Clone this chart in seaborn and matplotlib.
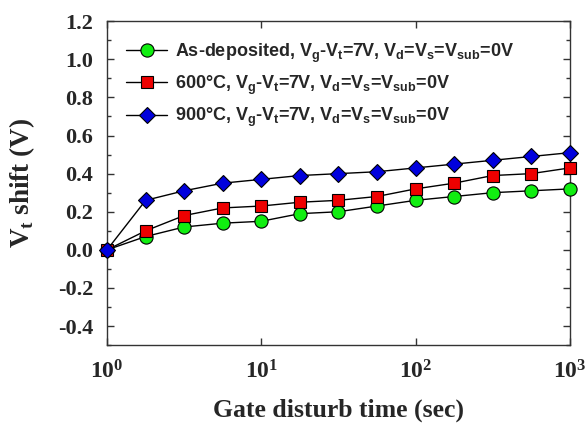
import matplotlib
matplotlib.use("Agg")
import matplotlib.pyplot as plt
import seaborn as sns
import pandas as pd
from matplotlib.ticker import MultipleLocator

sns.set_style("ticks")
plt.rcParams['font.family'] = ['Liberation Serif', 'DejaVu Serif']
plt.rcParams['mathtext.fontset'] = 'custom'
plt.rcParams['mathtext.rm'] = 'Liberation Serif:bold'
plt.rcParams['mathtext.sf'] = 'Liberation Sans:bold'
plt.rcParams['mathtext.bf'] = 'Liberation Serif:bold'

time_s = [1, 1.78, 3.16, 5.62, 10, 17.8, 31.6, 56.2, 100, 178, 316, 562, 1000]
as_deposited = [0.0, 0.07, 0.12, 0.14, 0.15, 0.19, 0.20, 0.23, 0.26, 0.28, 0.30, 0.31, 0.32]
anneal_600 = [0.0, 0.10, 0.18, 0.22, 0.23, 0.25, 0.26, 0.28, 0.32, 0.35, 0.39, 0.40, 0.43]
anneal_900 = [0.0, 0.26, 0.31, 0.35, 0.37, 0.39, 0.40, 0.41, 0.43, 0.45, 0.47, 0.49, 0.51]

labels = [
    r"As-deposited, V$_{\mathsf{g}}$-V$_{\mathsf{t}}$=7V, V$_{\mathsf{d}}$=V$_{\mathsf{s}}$=V$_{\mathsf{sub}}$=0V",
    r"600°C, V$_{\mathsf{g}}$-V$_{\mathsf{t}}$=7V, V$_{\mathsf{d}}$=V$_{\mathsf{s}}$=V$_{\mathsf{sub}}$=0V",
    r"900°C, V$_{\mathsf{g}}$-V$_{\mathsf{t}}$=7V, V$_{\mathsf{d}}$=V$_{\mathsf{s}}$=V$_{\mathsf{sub}}$=0V",
]
series = [as_deposited, anneal_600, anneal_900]
markers = ['o', 's', 'D']
faces = ['#11ee11', '#ee0000', '#0000dd']
msizes = [9.5, 8.5, 8.5]

xticks = [1, 10, 100, 1000]
xticklabels = [r"$\mathrm{10^{0}}$", r"$\mathrm{10^{1}}$", r"$\mathrm{10^{2}}$", r"$\mathrm{10^{3}}$"]
yticks = [-0.4, -0.2, 0.0, 0.2, 0.4, 0.6, 0.8, 1.0, 1.2]

fig = plt.figure(figsize=(5.88, 4.24), dpi=100)
ax = fig.add_axes([0.182, 0.186, 0.787, 0.764])
ax.set_xscale('log')

for lab, vals, mk, fc, ms in zip(labels, series, markers, faces, msizes):
    df = pd.DataFrame({'t': time_s, 'v': vals})
    sns.lineplot(data=df, x='t', y='v', ax=ax, color='black', linewidth=1.0,
                 marker=mk, markerfacecolor=fc, markeredgecolor='black',
                 markeredgewidth=0.8, markersize=ms, label=lab, clip_on=False, zorder=3)

ax.set_xlim(1, 1000)
ax.set_ylim(-0.5, 1.2)
ax.set_xticks(xticks, xticklabels)
ax.minorticks_off()
ax.set_yticks(yticks)
ax.set_yticklabels([f"{v:.1f}" for v in yticks])
ax.yaxis.set_minor_locator(MultipleLocator(0.1))
ax.tick_params(axis='both', which='both', direction='in', top=True, right=True, color='#333333')
ax.tick_params(axis='both', which='major', length=5, width=1)
ax.tick_params(axis='y', which='minor', length=3, width=1)
ax.tick_params(axis='y', labelsize=16, pad=10)
ax.tick_params(axis='x', labelsize=17, pad=11)
for lbl in ax.get_yticklabels():
    lbl.set_fontweight('bold')
for sp in ax.spines.values():
    sp.set_color('#333333')
    sp.set_linewidth(1.0)

ax.set_xlabel("Gate disturb time (sec)", fontsize=18.5, fontweight='bold', labelpad=11)
ax.set_ylabel(r"V$_{\mathrm{t}}$ shift (V)", fontsize=19.5, fontweight='bold', labelpad=15)

leg = ax.legend(loc='upper left', bbox_to_anchor=(0.025, 0.96), frameon=False,
                prop={'family': 'Liberation Sans', 'weight': 'bold', 'size': 13},
                handlelength=2.3, handletextpad=0.45, labelspacing=0.5, borderaxespad=0.0)

fig.savefig("out.png", dpi=100)
